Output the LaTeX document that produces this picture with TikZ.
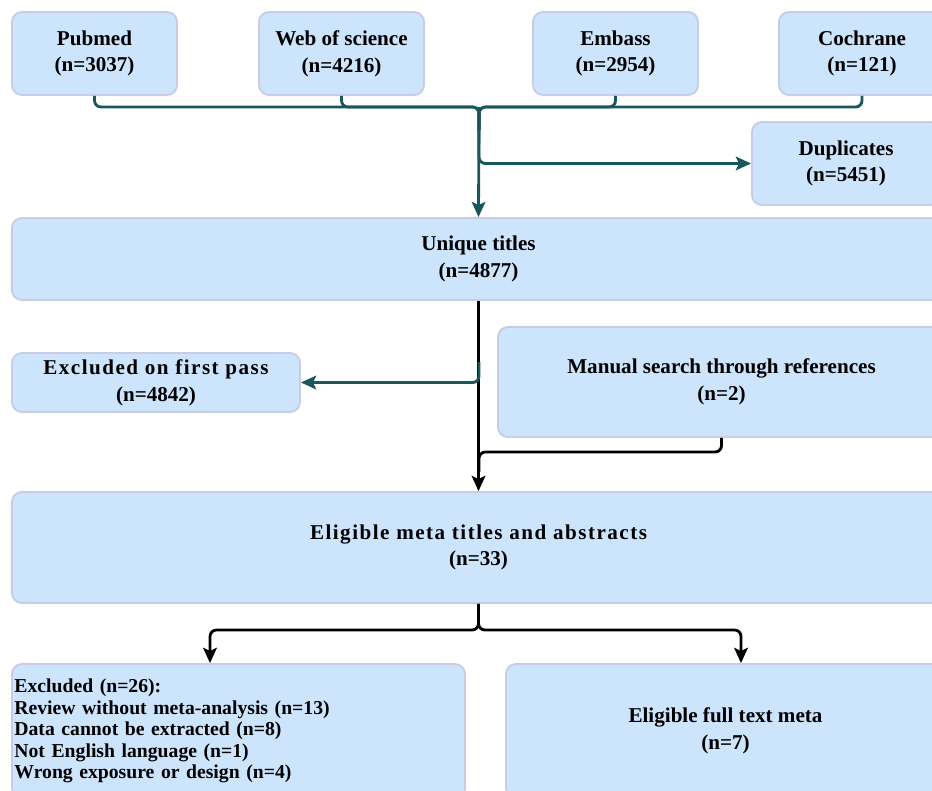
\documentclass[tikz,border=0pt]{standalone}
\usepackage{fontspec}
\setmainfont{Liberation Serif}
\newfontfamily\spacedserif[LetterSpace=7]{Liberation Serif}
\usepackage{tikz}
\usetikzlibrary{arrows.meta,positioning,calc}
\usepackage{xcolor}
\definecolor{boxfill}{RGB}{204,228,252}
\definecolor{boxline}{RGB}{200,204,228}
\definecolor{flowteal}{RGB}{24,88,92}

\tikzset{
  box/.style={draw=boxline, line width=1.3pt, fill=boxfill, rounded corners=0.25cm,
    align=center, inner sep=0pt, font=\bfseries\fontsize{15}{19}\selectfont},
  tealline/.style={draw=flowteal, line width=2pt, rounded corners=0.16cm},
  blackline/.style={draw=black, line width=2pt, rounded corners=0.16cm},
  tip/.style={-{Stealth[length=0.38cm,width=0.34cm,inset=0.08cm]}}
}

\begin{document}
\begin{tikzpicture}[x=0.025cm, y=-0.025cm]
    % Page
    \fill[white] (0,0) rectangle (932,790);
    \useasboundingbox (0,0) rectangle (932,790);

    % Sources
    \node[box, minimum width=4.125cm, minimum height=2.075cm] (pubmed) at (94.5,53.5) {Pubmed\\(n=3037)};
    \node[box, minimum width=4.125cm, minimum height=2.075cm] (wos) at (341.5,53.5) {Web of science\\(n=4216)};
    \node[box, minimum width=4.125cm, minimum height=2.075cm] (embass) at (615.5,53.5) {Embass\\(n=2954)};
    \node[box, minimum width=4.15cm, minimum height=2.075cm] (cochrane) at (862,53.5) {Cochrane\\(n=121)};

    % Duplicates and unique titles
    \node[box, minimum width=4.7cm, minimum height=2.075cm] (dupl) at (846,163.5) {Duplicates\\(n=5451)};
    \node[box, minimum width=23.325cm, minimum height=2.05cm] (unique) at (478.5,259) {Unique titles\\(n=4877)};

    % Screening
    \node[box, minimum width=7.2cm, minimum height=1.475cm, font=\fontsize{15}{19}\selectfont] (excl1) at (156,382.5)
        {{\spacedserif\bfseries Excluded on first pass}\\\bfseries(n=4842)};
    \node[box, minimum width=11.175cm, minimum height=2.75cm] (manual) at (721.5,382) {Manual search through references\\(n=2)};
    \node[box, minimum width=23.325cm, minimum height=2.775cm, font=\fontsize{15}{19}\selectfont] (eligible) at (478.5,547.5)
        {{\spacedserif\bfseries Eligible meta titles and abstracts}\\\bfseries(n=33)};

    % Final
    \node[box, minimum width=11.325cm, minimum height=3.35cm, text width=11.2cm, align=left,
          font=\bfseries\fontsize{14}{15.4}\selectfont] (excl2) at (238.5,731)
        {Excluded (n=26):\\Review without meta-analysis (n=13)\\Data cannot be extracted (n=8)\\Not English language (n=1)\\Wrong exposure or design (n=4)};
    \node[box, minimum width=10.975cm, minimum height=3.35cm] (full) at (725.5,731) {Eligible full text meta\\(n=7)};

    % Junction points
    \coordinate (merge) at (479,107);
    \coordinate (mergedown) at (479,130);
    \coordinate (split1) at (479,362);
    \coordinate (join) at (479,452);
    \coordinate (joindown) at (479,472);
    \coordinate (leftdrop) at (210,630);
    \coordinate (rightdrop) at (741,630);

    % Database connectors
    \foreach \src in {pubmed,wos,embass,cochrane}
        \draw[tealline] (\src.south) |- (merge) -- (mergedown);
    \draw[tealline, tip] (merge) -- (unique.north);
    \draw[tealline, tip] (merge) |- (dupl.west);

    % Screening connectors
    \draw[blackline, tip] (unique.south) -- (eligible.north);
    \draw[tealline, tip] (split1) |- (excl1.east);
    \draw[blackline] (manual.south) |- (join) -- (joindown);

    % Split to final boxes
    \draw[blackline, tip] (eligible.south) |- (leftdrop) -- (leftdrop |- excl2.north);
    \draw[blackline, tip] (eligible.south) |- (rightdrop) -- (rightdrop |- full.north);

\end{tikzpicture}
\end{document}
